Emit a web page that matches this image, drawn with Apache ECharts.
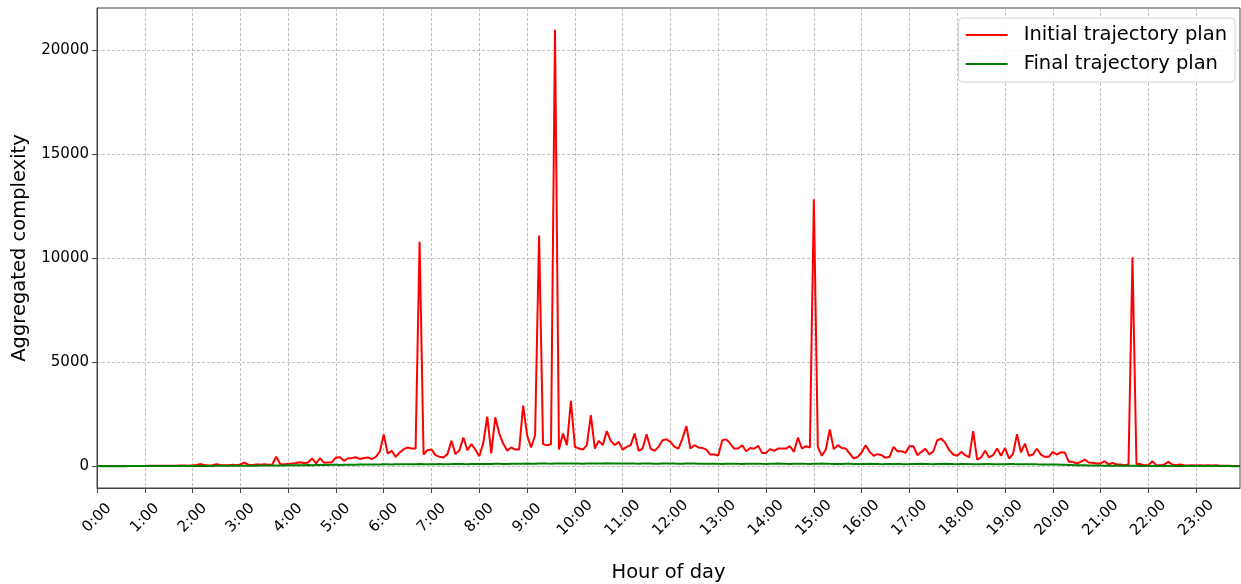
<!DOCTYPE html>
<html>
<head>
<meta charset="utf-8">
<script src="https://cdn.jsdelivr.net/npm/echarts@6/dist/echarts.min.js"></script>
<style>
html,body{margin:0;padding:0;background:#fff;}
#chart{width:1241px;height:584px;}
</style>
</head>
<body>
<div id="chart"></div>
<script>
// 5-minute slots over the day (index 0..287)
const xTickLabels = ['0:00','1:00','2:00','3:00','4:00','5:00','6:00','7:00','8:00','9:00','10:00','11:00',
  '12:00','13:00','14:00','15:00','16:00','17:00','18:00','19:00','20:00','21:00','22:00','23:00'];
const yTicks = [0, 5000, 10000, 15000, 20000];

const initialPlan = [
  10,8,12,6,5,9,7,6,8,10,12,9,
  14,18,15,20,17,22,19,25,21,28,30,26,
  40,60,100,55,35,45,90,60,40,50,70,45,
  80,170,70,60,85,75,90,65,80,450,100,80,
  120,130,150,190,140,180,370,130,390,160,180,190,
  420,430,260,370,390,430,350,390,420,340,450,690,
  1530,610,740,450,660,820,900,850,850,10800,560,770,
  800,530,450,420,580,1220,580,770,1380,770,1060,800,
  480,1120,2380,610,2350,1570,1090,740,900,800,800,2910,
  1490,900,1490,11100,1060,1010,1060,21000,800,1570,1010,3150,
  930,850,800,1010,2460,850,1220,1010,1690,1220,1010,1170,
  800,930,1010,1570,740,850,1530,850,740,930,1250,1290,
  1170,930,850,1330,1930,850,1010,900,880,800,560,560,
  510,1250,1290,1090,850,850,1010,720,880,840,980,640,
  640,820,740,850,850,850,960,690,1370,850,960,900,
  12850,930,500,800,1770,820,1010,880,850,610,370,450,
  660,1010,690,500,580,530,400,450,930,720,720,640,
  960,960,530,690,840,560,720,1250,1320,1120,770,560,
  500,690,530,420,1690,320,420,740,420,530,850,500,
  880,370,580,1540,660,1090,500,560,840,560,450,450,
  690,560,670,660,210,210,130,210,320,180,160,130,
  130,240,80,160,80,80,50,80,10050,110,100,50,
  50,240,50,50,80,210,80,50,80,50,30,50,
  30,50,30,50,30,40,25,20,15,10,8,5
];

const finalPlan = [
  3,2,3,2,2,3,2,2,3,3,4,4,
  5,5,6,5,6,7,6,7,8,8,9,8,
  10,12,11,12,14,13,15,16,15,17,18,20,
  22,24,23,26,25,28,30,29,33,35,34,38,
  40,42,45,44,48,52,50,55,58,56,60,63,
  65,62,68,70,72,70,75,78,76,80,82,85,
  90,88,85,92,95,90,88,93,96,100,98,95,
  92,98,100,96,94,99,102,105,100,97,103,108,
  110,105,102,108,112,115,110,106,112,118,115,120,
  125,118,122,128,130,124,120,126,132,128,125,135,
  130,126,122,128,134,130,127,132,138,135,130,125,
  128,133,129,124,120,126,131,128,122,118,124,130,
  135,128,122,120,125,130,126,120,115,118,122,119,
  114,110,116,120,118,112,108,114,119,123,117,112,
  108,115,120,125,118,112,110,116,121,118,113,110,
  115,120,124,118,112,108,105,110,115,112,106,100,
  104,108,112,106,102,98,103,108,110,105,100,96,
  100,105,110,115,108,102,98,103,107,112,106,100,
  96,100,104,99,95,92,97,101,105,98,94,90,
  95,99,103,97,92,88,93,96,90,86,82,85,
  80,75,70,64,58,52,48,44,40,36,34,30,
  28,26,24,22,20,19,18,17,16,15,14,13,
  12,11,10,10,9,9,8,8,7,7,6,6,
  5,5,5,4,4,4,3,3,3,2,2,2
];

const slotsPerHour = 12;
const xTickValues = xTickLabels.map((_, k) => k * slotsPerHour);

const FONT = 'DejaVu Sans';
const chart = echarts.init(document.getElementById('chart'), null, {renderer: 'canvas'});
const gridLine = {show: true, lineStyle: {color: '#b0b0b0', width: 0.8, type: [3, 2]}};
chart.setOption({
  animation: false,
  backgroundColor: '#fff',
  textStyle: {fontFamily: FONT},
  grid: {left: 97, right: 1, top: 8, bottom: 96, show: true, borderColor: '#444', borderWidth: 1,
         containLabel: false, outerBoundsMode: 'none'},
  legend: {
    right: 6, top: 18, orient: 'vertical',
    backgroundColor: 'rgba(255,255,255,0.85)', borderColor: '#d0d0d0', borderWidth: 1, borderRadius: 4,
    padding: [6, 8, 7, 7], itemWidth: 42, itemHeight: 2, itemGap: 7, icon: 'rect',
    textStyle: {fontFamily: FONT, fontSize: 19.5, lineHeight: 22, color: '#000', padding: [0, 0, 0, 11]},
    data: ['Initial trajectory plan', 'Final trajectory plan']
  },
  xAxis: {
    type: 'value', min: 0, max: initialPlan.length - 1,
    name: 'Hour of day', nameLocation: 'middle', nameGap: 75,
    nameTextStyle: {fontFamily: FONT, fontSize: 19.5, color: '#000'},
    axisLine: {show: true, onZero: false, lineStyle: {color: '#444', width: 1}},
    axisTick: {show: true, length: 5, inside: false, customValues: xTickValues, lineStyle: {color: '#444'}},
    axisLabel: {customValues: xTickValues, rotate: 45, align: 'center', verticalAlign: 'middle',
      fontFamily: FONT, fontSize: 15, color: '#000', margin: 30, hideOverlap: false,
      formatter: v => xTickLabels[Math.round(v / slotsPerHour)]},
    splitLine: gridLine
  },
  yAxis: {
    type: 'value', min: -1050, max: 22050,
    name: 'Aggregated complexity', nameLocation: 'middle', nameGap: 56, nameRotate: 90,
    nameTextStyle: {fontFamily: FONT, fontSize: 19.5, color: '#000'},
    axisLine: {show: true, onZero: false, lineStyle: {color: '#444', width: 1}},
    axisTick: {show: true, length: 5, customValues: yTicks, lineStyle: {color: '#444'}},
    axisLabel: {customValues: yTicks, fontFamily: FONT, fontSize: 15, color: '#000', margin: 8,
      formatter: v => String(v)},
    splitLine: gridLine
  },
  series: [
    {name: 'Initial trajectory plan', type: 'line', symbol: 'none', z: 3,
     lineStyle: {color: '#ff0000', width: 2}, itemStyle: {color: '#ff0000'},
     data: initialPlan.map((v, i) => [i, v])},
    {name: 'Final trajectory plan', type: 'line', symbol: 'none', z: 4,
     lineStyle: {color: '#008000', width: 2}, itemStyle: {color: '#008000'},
     data: finalPlan.map((v, i) => [i, v])}
  ]
});
</script>
</body>
</html>
